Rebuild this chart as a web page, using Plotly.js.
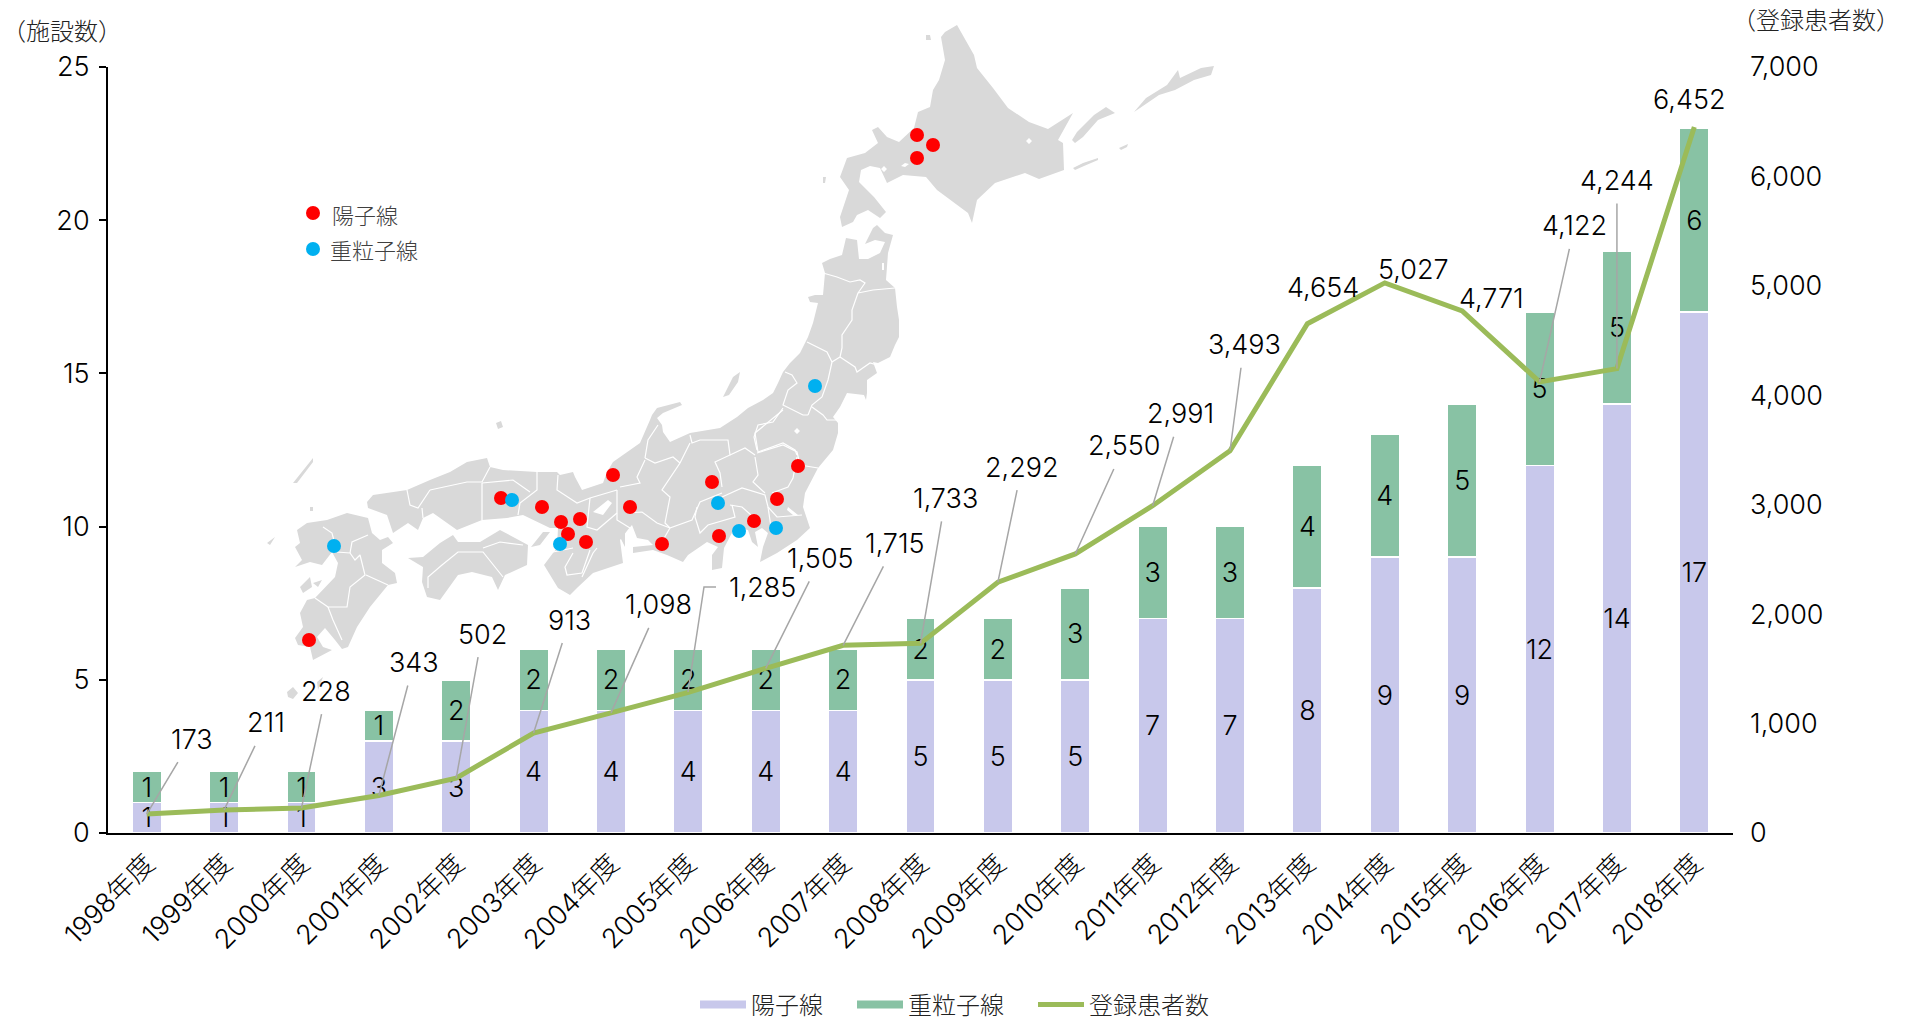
<!DOCTYPE html>
<html>
<head>
<meta charset="utf-8">
<script src="https://cdn.plot.ly/plotly-3.0.1.min.js"></script>
<style>html,body{margin:0;padding:0;background:#fff}</style>
</head>
<body>
<div id="chart" style="width:1905px;height:1021px"></div>
<script>
// ---- chart data ----
const years = ["1998年度","1999年度","2000年度","2001年度","2002年度","2003年度","2004年度","2005年度","2006年度","2007年度","2008年度","2009年度","2010年度","2011年度","2012年度","2013年度","2014年度","2015年度","2016年度","2017年度","2018年度"];
const protonFacilities = [1,1,1,3,3,4,4,4,4,4,5,5,5,7,7,8,9,9,12,14,17];
const heavyFacilities  = [1,1,1,1,2,2,2,2,2,2,2,2,3,3,3,4,4,5,5,5,6];
const patients = [173,211,228,343,502,913,1098,1285,1505,1715,1733,2292,2550,2991,3493,4654,5027,4771,4122,4244,6452];

// ---- label placement (pixels from the point) ----
const labelDX = [45,42,25,35,26,36,48,74,55,52,25,24,49,28,14,16,29,29,35,0,-5];
const labelDY = [-75,-87,-117,-133,-144,-113,-108,-105,-110,-102,-145,-115,-108,-92,-106,-36,-13,-12,-156,-188,-27];
const leaderOn = [1,1,1,1,1,1,1,0,1,1,1,1,1,1,1,0,0,0,1,1,0];

// ---- background map (in map units) ----
const hokkaido = [[957,25],[945,32],[941,37],[945,60],[939,80],[933,90],[930,107],[918,112],[914,128],[899,142],[887,137],[878,127],[872,130],[878,143],[865,153],[847,158],[840,177],[849,190],[840,217],[842,227],[853,222],[857,215],[868,210],[880,218],[886,212],[874,197],[859,182],[861,170],[870,166],[880,168],[887,183],[903,175],[926,177],[937,190],[968,213],[972,223],[977,200],[995,183],[1025,173],[1039,179],[1064,170],[1063,143],[1058,140],[1073,113],[1048,129],[1029,122],[1008,108],[993,88],[977,68],[974,55],[957,25]];
const kurils = [
 [[1072,140],[1077,132],[1094,115],[1106,107],[1115,113],[1098,120],[1083,137],[1075,143]],
 [[1134,112],[1146,98],[1167,85],[1178,70],[1180,78],[1201,68],[1214,66],[1211,75],[1194,80],[1175,90],[1159,95],[1140,108]],
 [[1119,148],[1128,144],[1127,147],[1121,150]],
 [[1073,168],[1083,163],[1098,158],[1098,160],[1084,166],[1075,170]]
];
const honshu = [[822,263],[830,259],[842,255],[846,238],[857,240],[859,259],[868,259],[880,253],[885,242],[875,240],[865,244],[873,228],[877,225],[885,233],[893,235],[888,253],[886,280],[895,288],[897,307],[899,320],[899,337],[895,345],[890,357],[878,363],[873,362],[877,373],[867,380],[867,393],[866,400],[864,395],[847,393],[840,407],[833,417],[838,423],[838,433],[833,450],[818,468],[805,493],[803,507],[810,528],[797,540],[777,553],[760,562],[763,547],[768,533],[762,528],[755,532],[758,547],[752,542],[748,530],[735,527],[728,540],[724,548],[722,568],[712,570],[712,555],[718,547],[707,542],[688,555],[683,562],[667,555],[653,550],[633,553],[633,547],[653,545],[648,540],[637,538],[632,525],[625,533],[625,547],[620,537],[630,527],[620,540],[623,563],[593,573],[578,587],[570,595],[558,588],[553,580],[544,565],[553,553],[557,548],[558,528],[550,528],[523,515],[507,518],[482,520],[457,530],[433,513],[423,518],[418,530],[408,523],[393,533],[387,515],[368,508],[367,502],[373,495],[393,492],[407,490],[430,480],[450,472],[467,462],[487,458],[490,467],[503,470],[537,472],[557,472],[560,475],[573,472],[575,477],[582,490],[603,483],[607,472],[613,462],[630,450],[640,443],[650,420],[652,415],[657,408],[680,402],[682,405],[663,413],[657,418],[662,425],[663,432],[670,442],[690,433],[720,428],[737,417],[748,408],[763,400],[773,393],[778,383],[783,372],[790,363],[800,353],[808,337],[813,323],[818,303],[810,302],[808,297],[815,295],[823,295],[825,273],[822,263]];
const shikoku = [[408,558],[423,557],[440,543],[453,535],[458,542],[480,542],[500,530],[528,545],[527,565],[505,575],[498,590],[492,577],[472,572],[458,575],[440,600],[427,597],[422,582],[423,567],[408,558]];
const kyushu = [[368,518],[347,513],[327,520],[307,523],[297,530],[300,543],[295,547],[302,560],[295,567],[310,562],[322,565],[332,552],[338,563],[335,577],[315,598],[307,600],[300,613],[303,627],[295,638],[298,645],[310,647],[313,660],[332,650],[323,647],[317,637],[325,628],[335,640],[342,649],[348,647],[357,627],[370,607],[388,585],[397,583],[395,573],[382,563],[382,550],[393,543],[388,537],[380,540],[372,533],[368,518]];
const smallIslands = [
 [[723,397],[733,377],[740,372],[738,382],[729,395]],
 [[531,547],[543,532],[550,532],[540,545]],
 [[293,483],[302,472],[313,458],[313,462],[303,475],[297,483]],
 [[310,507],[313,507],[313,511],[310,511]],
 [[300,587],[310,577],[312,587],[303,593]],
 [[313,583],[322,580],[318,587]],
 [[267,543],[275,537],[270,545]],
 [[287,692],[293,687],[298,693],[293,699],[288,697]],
 [[317,682],[323,677],[318,690]],
 [[496,423],[501,421],[503,427],[498,429]],
 [[926,35],[930,35],[931,40],[926,40]],
 [[823,177],[826,177],[825,183],[823,183]]
];
const lakes = [
 [[881,169],[884,166],[887,169],[884,172]],
 [[901,166],[905,163],[909,164],[905,167]],
 [[1026,141],[1029,138],[1032,141],[1029,144]],
 [[794,431],[797,428],[800,431],[797,434]],
 [[593,512],[608,500],[612,503],[603,515]],
 [[788,507],[798,515],[793,515],[787,510]],
 [[882,263],[884,263],[884,270],[882,270]]
];
const prefBorders = [
 [[823,273],[837,277],[850,282],[860,280],[865,283],[858,293],[873,290],[895,288]],
 [[858,293],[852,310],[852,320],[842,335],[842,348],[840,357]],
 [[807,342],[827,352],[832,362]],
 [[840,357],[855,367],[857,372],[870,363],[877,365]],
 [[840,357],[832,362],[828,380],[822,397],[812,405],[808,415]],
 [[785,372],[792,375],[797,383],[788,390],[783,405],[803,415],[808,415]],
 [[812,407],[823,415],[827,420],[838,420]],
 [[783,408],[773,422],[758,425],[754,437],[757,450]],
 [[757,453],[783,445],[797,452],[800,465],[818,468]],
 [[783,410],[755,433],[758,452]],
 [[758,452],[783,443],[795,450],[797,455]],
 [[797,457],[793,478],[788,487],[772,493]],
 [[755,457],[758,475],[753,482],[765,493]],
 [[690,435],[692,443],[700,440],[728,440],[730,455],[715,462],[720,473],[722,487]],
 [[730,455],[745,448],[755,455]],
 [[722,497],[742,488],[765,495],[768,507],[777,517],[802,515]],
 [[768,507],[771,527]],
 [[730,505],[742,507],[760,523]],
 [[697,507],[695,517],[700,533],[708,525],[735,517],[732,505]],
 [[722,493],[700,502],[692,520],[670,528],[663,540],[667,548]],
 [[690,443],[680,463],[662,490],[670,497],[665,523],[670,528]],
 [[645,458],[655,463],[673,457],[680,463]],
 [[645,458],[648,440],[658,425]],
 [[645,460],[637,477],[640,483],[620,487]],
 [[627,513],[642,512],[657,523],[670,528]],
 [[617,490],[617,507],[617,520],[630,528]],
 [[590,498],[587,527],[597,530],[617,513]],
 [[590,550],[582,573],[567,575],[565,567],[573,553]],
 [[582,577],[593,553],[597,548]],
 [[553,552],[573,548]],
 [[558,475],[557,490],[577,503],[590,498],[617,490]],
 [[537,472],[537,490],[520,503],[518,515]],
 [[482,483],[513,480],[530,492]],
 [[430,490],[455,485],[467,482],[482,482],[490,467]],
 [[482,483],[482,520]],
 [[407,490],[410,505],[418,508],[430,490]],
 [[422,508],[423,518]],
 [[428,588],[428,577],[442,565],[458,552],[483,552],[503,577]],
 [[483,548],[500,542],[523,545]],
 [[323,527],[332,533],[337,552],[350,553],[355,560],[360,555],[365,575],[350,587],[347,607],[328,607],[333,620],[342,640]],
 [[368,535],[352,542],[350,553]],
 [[366,575],[388,585]],
 [[315,598],[328,607]]
];
const protonSites = [[917,135],[933,145],[917,158],[798,466],[712,482],[777,499],[630,507],[754,521],[719,536],[662,544],[613,475],[501,498],[542,507],[580,519],[561,522],[568,534],[586,542],[309,640]];
const heavySites = [[815,386],[718,503],[739,531],[776,528],[512,500],[560,544],[334,546]];
const mapKeyProton = [[313,213]];
const mapKeyHeavy = [[313,249]];

// ---- helpers ----
function unzip(polys){
  const xs=[],ys=[];
  polys.forEach(p=>{p.forEach(q=>{xs.push(q[0]);ys.push(q[1]);});xs.push(null);ys.push(null);});
  return {x:xs,y:ys};
}
const land = unzip([hokkaido,honshu,shikoku,kyushu].concat(kurils,smallIslands));
const water = unzip(lakes);
const borders = unzip(prefBorders);
const numFont = 'Inter,"Noto Sans CJK JP",sans-serif';
const cjkFont = '"Noto Sans CJK JP",Inter,sans-serif';
const labelFont = {family:numFont,size:27,color:'#000',weight:300};

const PURPLE='#C8C8EB', GREEN='#88C2A4', LINE='#9BBB59', LEADER='#A6A6A6';

const traces = [
  // map under the chart
  {type:'scatter',mode:'lines',x:land.x,y:land.y,fill:'toself',fillcolor:'#D9D9D9',line:{width:0,color:'#D9D9D9'},xaxis:'x',yaxis:'y',hoverinfo:'skip',showlegend:false,name:'地図'},
  {type:'scatter',mode:'lines',x:water.x,y:water.y,fill:'toself',fillcolor:'#FFFFFF',line:{width:0,color:'#FFFFFF'},xaxis:'x',yaxis:'y',hoverinfo:'skip',showlegend:false,name:'湖'},
  {type:'scatter',mode:'lines',x:borders.x,y:borders.y,line:{width:1.2,color:'#FFFFFF'},xaxis:'x',yaxis:'y',hoverinfo:'skip',showlegend:false,name:'県境'},
  {type:'scatter',mode:'markers',x:protonSites.concat(mapKeyProton).map(p=>p[0]),y:protonSites.concat(mapKeyProton).map(p=>p[1]),marker:{size:14,color:'#FF0000'},xaxis:'x',yaxis:'y',showlegend:false,name:'陽子線施設'},
  {type:'scatter',mode:'markers',x:heavySites.concat(mapKeyHeavy).map(p=>p[0]),y:heavySites.concat(mapKeyHeavy).map(p=>p[1]),marker:{size:14,color:'#00B0F0'},xaxis:'x',yaxis:'y',showlegend:false,name:'重粒子線施設'},
  // stacked bars
  {type:'bar',name:'陽子線',x:years,y:protonFacilities,xaxis:'x2',yaxis:'y2',marker:{color:PURPLE,line:{color:'#FFFFFF',width:1.5}},text:protonFacilities.map(String),textposition:'inside',insidetextanchor:'middle',textangle:0,constraintext:'none',insidetextfont:labelFont,showlegend:false},
  {type:'bar',name:'重粒子線',x:years,y:heavyFacilities,xaxis:'x2',yaxis:'y2',marker:{color:GREEN,line:{color:'#FFFFFF',width:1.5}},text:heavyFacilities.map(String),textposition:'inside',insidetextanchor:'middle',textangle:0,constraintext:'none',insidetextfont:labelFont,showlegend:false},
  // patients line
  {type:'scatter',mode:'lines',name:'登録患者数',x:years,y:patients,xaxis:'x2',yaxis:'y3',line:{color:LINE,width:5},showlegend:false},
  // legend keys
  {type:'scatter',mode:'lines',name:'陽子線\u3000',x:[null],y:[null],xaxis:'x2',yaxis:'y3',line:{color:PURPLE,width:8}},
  {type:'scatter',mode:'lines',name:'重粒子線\u3000',x:[null],y:[null],xaxis:'x2',yaxis:'y3',line:{color:GREEN,width:8}},
  {type:'scatter',mode:'lines',name:'登録患者数',x:[null],y:[null],xaxis:'x2',yaxis:'y3',line:{color:LINE,width:5}}
];

const annotations = patients.map((v,i)=>{
  const a = {xref:'x2',yref:'y3',x:years[i],y:v,text:v.toLocaleString('en-US'),font:labelFont,align:'center'};
  if(leaderOn[i]){
    return Object.assign(a,{showarrow:true,arrowhead:0,arrowwidth:1.5,arrowcolor:LEADER,axref:'pixel',ayref:'pixel',ax:labelDX[i],ay:labelDY[i],borderpad:6,standoff:0});
  }
  return Object.assign(a,{showarrow:false,xshift:labelDX[i],yshift:-labelDY[i],xanchor:'center',yanchor:'middle'});
});
annotations.push(
  {xref:'x',yref:'y',xanchor:'left',yanchor:'middle',x:0,y:29,text:'（施設数）',showarrow:false,font:{family:cjkFont,size:24,color:'#222',weight:300}},
  {xref:'x',yref:'y',xanchor:'left',yanchor:'middle',x:1730,y:18,text:'（登録患者数）',showarrow:false,font:{family:cjkFont,size:24,color:'#222',weight:300}},
  {xref:'x',yref:'y',xanchor:'left',yanchor:'middle',x:330,y:214,text:'陽子線',showarrow:false,font:{family:cjkFont,size:22,color:'#404040',weight:300}},
  {xref:'x',yref:'y',xanchor:'left',yanchor:'middle',x:328,y:249,text:'重粒子線',showarrow:false,font:{family:cjkFont,size:22,color:'#404040',weight:300}}
);

const layout = {
  width:1905,height:1021,autosize:false,
  margin:{l:0,r:0,t:0,b:0,pad:0,autoexpand:false},
  paper_bgcolor:'#fff',plot_bgcolor:'rgba(0,0,0,0)',
  barmode:'stack',bargap:0.62,
  font:{family:numFont,size:25,color:'#000'},
  xaxis:{visible:false,range:[0,1905],domain:[0,1],fixedrange:true},
  yaxis:{visible:false,range:[1021,0],domain:[0,1],fixedrange:true},
  xaxis2:{domain:[108/1905,1733/1905],anchor:'y2',type:'category',categoryorder:'array',categoryarray:years,range:[-0.5,20.5],showline:true,linecolor:'#000',linewidth:2,ticks:'',tickangle:-45,showgrid:false,zeroline:false,tickfont:{family:numFont,size:27,color:'#000',weight:300},automargin:false,ticklabelstandoff:2},
  yaxis2:{domain:[188/1021,954/1021],anchor:'x2',side:'left',range:[0,25],dtick:5,tick0:0,showline:true,linecolor:'#000',linewidth:2,ticks:'outside',ticklen:7,tickwidth:2,tickcolor:'#000',showgrid:false,zeroline:false,tickfont:{family:numFont,size:27,color:'#000',weight:300},automargin:false,ticklabelstandoff:4},
  yaxis3:{overlaying:'y2',anchor:'x2',side:'right',range:[0,7000],dtick:1000,tick0:0,tickformat:',d',showline:false,ticks:'',showgrid:false,zeroline:false,tickfont:{family:numFont,size:27,color:'#000',weight:300},automargin:false,ticklabelstandoff:16},
  legend:{orientation:'h',x:695/1905,xanchor:'left',y:1-1005/1021,yanchor:'middle',itemwidth:46,font:{family:cjkFont,size:24,color:'#222',weight:300},bgcolor:'rgba(0,0,0,0)',traceorder:'normal'},
  annotations:annotations,
  shapes:[
    {type:'path',xref:'x',yref:'y',path:'M688,692 L704,587 L716,587',line:{color:LEADER,width:1.5},layer:'above'}
  ],
  hovermode:false
};
Plotly.newPlot('chart',traces,layout,{displayModeBar:false,responsive:false});
</script>
</body>
</html>
